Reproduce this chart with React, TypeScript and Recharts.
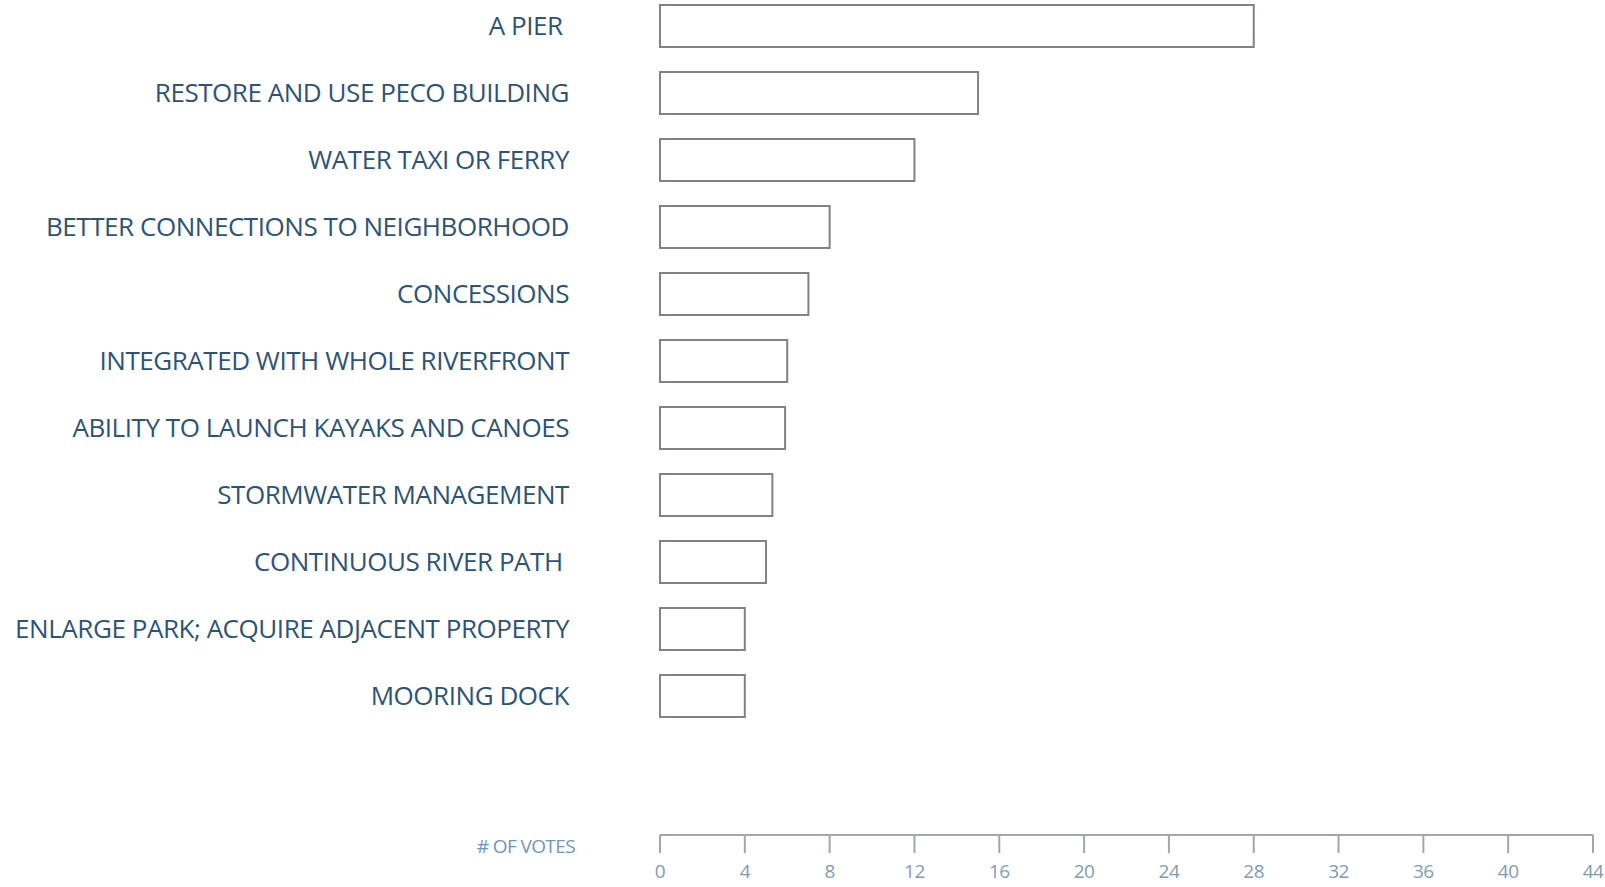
import React from "react";
import { BarChart, Bar, XAxis, YAxis } from "recharts";

const categories = [
  "A PIER ",
  "RESTORE AND USE PECO BUILDING",
  "WATER TAXI OR FERRY",
  "BETTER CONNECTIONS TO NEIGHBORHOOD",
  "CONCESSIONS",
  "INTEGRATED WITH WHOLE RIVERFRONT",
  "ABILITY TO LAUNCH KAYAKS AND CANOES",
  "STORMWATER MANAGEMENT",
  "CONTINUOUS RIVER PATH ",
  "ENLARGE PARK; ACQUIRE ADJACENT PROPERTY",
  "MOORING DOCK",
];

const votes = [28, 15, 12, 8, 7, 6, 5.9, 5.3, 5, 4, 4];

const voteTicks = [0, 4, 8, 12, 16, 20, 24, 28, 32, 36, 40, 44];

const data = categories.map((name, i) => ({ name, votes: votes[i] }));

const FONT = "'Open Sans', 'DejaVu Sans', sans-serif";

const CategoryTick = (props: any) => {
  const { x, y, payload } = props;
  return (
    <text
      x={x}
      y={y}
      dy={9.5}
      textAnchor="end"
      fill="#2b5478"
      fontFamily={FONT}
      fontSize={26}
      fontWeight={500}
      letterSpacing={-0.45}
      style={{ whiteSpace: "pre" }}
    >
      {payload.value}
    </text>
  );
};

const VoteTick = (props: any) => {
  const { x, y, payload } = props;
  return (
    <text
      x={x}
      y={y}
      dy={19}
      textAnchor="middle"
      fill="#7f9cb7"
      fontFamily={FONT}
      fontSize={19}
      letterSpacing={-0.5}
    >
      {payload.value}
    </text>
  );
};

const VotesLabel = (props: any) => {
  const { viewBox } = props;
  return (
    <text
      x={viewBox.x - 85}
      y={viewBox.y + 18}
      textAnchor="end"
      fill="#6f96bd"
      fontFamily={FONT}
      fontSize={19}
      letterSpacing={-0.6}
    >
      # OF VOTES
    </text>
  );
};

const App: React.FC = () => {
  return (
    <div
      style={{
        position: "absolute",
        left: 0,
        top: -8,
        width: 1605,
        height: 895,
        background: "#ffffff",
      }}
    >
      <BarChart
        width={1605}
        height={895}
        data={data}
        layout="vertical"
        margin={{ top: 0, right: 12, bottom: 0, left: 0 }}
        barSize={42}
      >
        <XAxis
          type="number"
          domain={[0, 44]}
          ticks={voteTicks}
          interval={0}
          height={52}
          stroke="#a3a7ab"
          strokeWidth={2}
          tickSize={18}
          tickMargin={6}
          tick={<VoteTick />}
          label={<VotesLabel />}
        />
        <YAxis
          type="category"
          dataKey="name"
          width={660}
          axisLine={false}
          tickLine={false}
          tickSize={0}
          tickMargin={91}
          interval={0}
          padding={{ top: 0, bottom: 106 }}
          tick={<CategoryTick />}
        />
        <Bar
          dataKey="votes"
          fill="#ffffff"
          stroke="#7f8286"
          strokeWidth={2}
          isAnimationActive={false}
        />
      </BarChart>
    </div>
  );
};

export default App;
